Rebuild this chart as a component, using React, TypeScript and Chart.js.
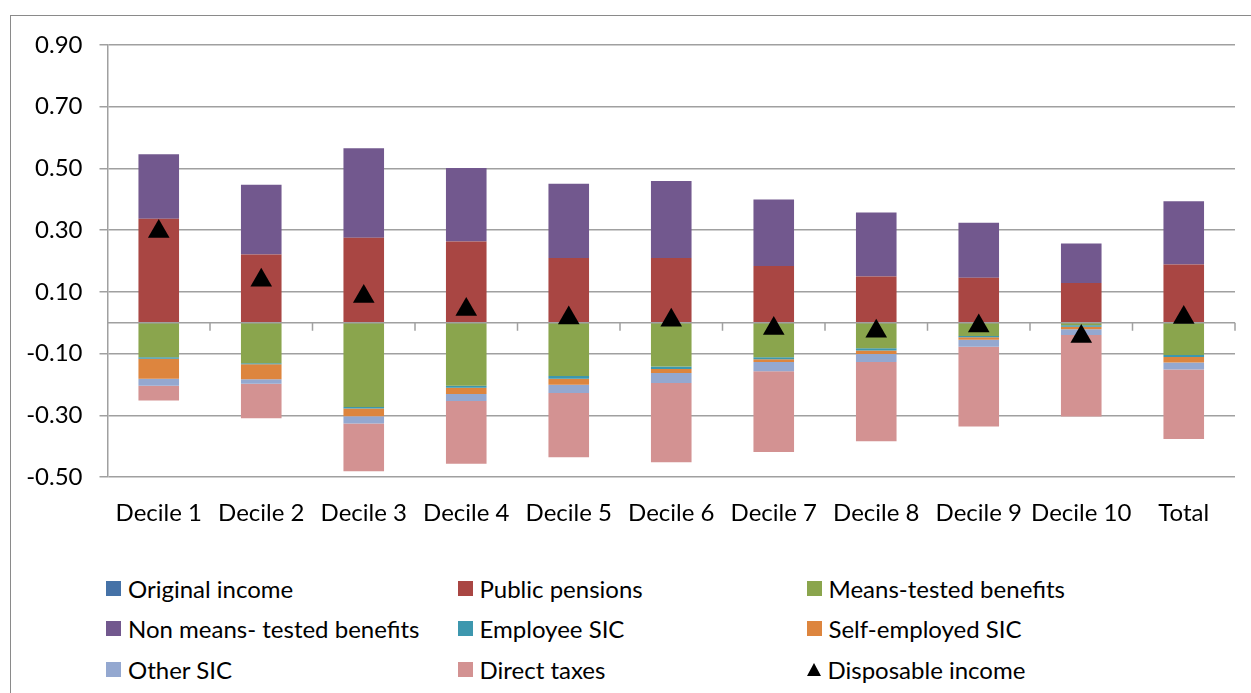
import React, { useEffect, useRef } from "react";
import { Chart, registerables } from "chart.js";

Chart.register(...registerables);

const categories = ["Decile 1", "Decile 2", "Decile 3", "Decile 4", "Decile 5", "Decile 6", "Decile 7", "Decile 8", "Decile 9", "Decile 10", "Total"];

const originalIncome = [0, 0, 0, 0, 0, 0, 0, 0, 0, 0, 0];
const publicPensions = [0.337, 0.221, 0.275, 0.263, 0.21, 0.21, 0.184, 0.15, 0.146, 0.129, 0.189];
const meansTested = [-0.112, -0.131, -0.273, -0.204, -0.173, -0.142, -0.112, -0.083, -0.043, -0.008, -0.105];
const nonMeansTested = [0.209, 0.226, 0.29, 0.238, 0.24, 0.249, 0.215, 0.207, 0.178, 0.128, 0.205];
const employeeSIC = [-0.005, -0.004, -0.005, -0.007, -0.009, -0.008, -0.006, -0.007, -0.004, -0.005, -0.006];
const selfEmployedSIC = [-0.065, -0.048, -0.025, -0.02, -0.019, -0.013, -0.009, -0.011, -0.008, -0.008, -0.018];
const otherSIC = [-0.022, -0.015, -0.024, -0.023, -0.027, -0.032, -0.03, -0.026, -0.023, -0.019, -0.023];
const directTaxes = [-0.048, -0.112, -0.154, -0.203, -0.208, -0.257, -0.262, -0.257, -0.258, -0.264, -0.225];
const disposableIncome = [0.296, 0.138, 0.085, 0.043, 0.015, 0.008, -0.019, -0.028, -0.011, -0.045, 0.017];

const yMin = -0.5;
const yMax = 0.9;
const yStep = 0.2;

const barSeries = [
  { label: "Original income", data: originalIncome, color: "#4572A7" },
  { label: "Public pensions", data: publicPensions, color: "#A94643" },
  { label: "Means-tested benefits", data: meansTested, color: "#8AA54D" },
  { label: "Non means- tested benefits", data: nonMeansTested, color: "#72588E" },
  { label: "Employee SIC", data: employeeSIC, color: "#3D97AE" },
  { label: "Self-employed SIC", data: selfEmployedSIC, color: "#DD853E" },
  { label: "Other SIC", data: otherSIC, color: "#94A8D0" },
  { label: "Direct taxes", data: directTaxes, color: "#D39292" },
];
const lineLabel = "Disposable income";

const FONT = "Lato, 'Open Sans', sans-serif";
const FONT_SIZE = 24;
const GRID = "#a0a0a0";

const zeroLinePlugin = {
  id: "zeroLine",
  beforeDatasetDraw(chart: any, args: any) {
    if (args.meta.type !== "line") return;
    const { ctx, chartArea, scales } = chart;
    const y0 = scales.y.getPixelForValue(0);
    const n = categories.length;
    const w = (chartArea.right - chartArea.left) / n;
    ctx.save();
    ctx.strokeStyle = GRID;
    ctx.lineWidth = 1.5;
    ctx.beginPath();
    ctx.moveTo(chartArea.left, y0);
    ctx.lineTo(chartArea.right, y0);
    for (let i = 1; i <= n; i++) {
      const x = chartArea.left + i * w;
      ctx.moveTo(x, y0);
      ctx.lineTo(x, y0 + 8);
    }
    ctx.stroke();
    ctx.restore();
  },
};

function LegendMarker({ color, triangle }: { color: string; triangle?: boolean }) {
  if (triangle) {
    return (
      <span
        style={{
          display: "inline-block",
          width: 0,
          height: 0,
          borderLeft: "7.5px solid transparent",
          borderRight: "7.5px solid transparent",
          borderBottom: "13px solid #000",
        }}
      />
    );
  }
  return <span style={{ display: "inline-block", width: 15, height: 15, background: color }} />;
}

export default function App() {
  const ref = useRef<HTMLCanvasElement | null>(null);

  useEffect(() => {
    if (!ref.current) return;
    const datasets: any[] = barSeries.map((s) => ({
      type: "bar",
      label: s.label,
      data: s.data,
      backgroundColor: s.color,
      borderWidth: 0,
      categoryPercentage: 1,
      barPercentage: 0.396,
      order: 0,
    }));
    datasets.push({
      type: "line",
      label: lineLabel,
      data: disposableIncome,
      showLine: false,
      pointStyle: "triangle",
      pointRadius: 12.5,
      pointBackgroundColor: "#000",
      pointBorderColor: "#000",
      pointBorderWidth: 0,
      order: -1,
    });
    const chart = new Chart(ref.current, {
      type: "bar",
      data: { labels: categories, datasets },
      options: {
        animation: false,
        responsive: false,
        layout: { padding: { top: 45, right: 16, left: 0, bottom: 0 } },
        plugins: { legend: { display: false }, tooltip: { enabled: false } },
        scales: {
          x: {
            stacked: true,
            grid: { display: false },
            border: { display: false },
            ticks: { color: "#000", font: { family: FONT, size: FONT_SIZE }, padding: 14, maxRotation: 0, autoSkip: false },
            afterFit: (s: any) => {
              s.height = 68;
            },
          },
          y: {
            stacked: true,
            min: yMin,
            max: yMax,
            grid: { color: GRID, lineWidth: 1.5, tickLength: 8, drawTicks: true },
            border: { display: true, color: GRID, width: 1.5 },
            ticks: {
              stepSize: yStep,
              color: "#000",
              font: { family: FONT, size: FONT_SIZE },
              padding: 17,
              callback: (v: any) => Number(v).toFixed(2),
            },
            afterFit: (s: any) => {
              s.width = 107.5;
            },
          },
        },
      } as any,
      plugins: [zeroLinePlugin],
    });
    return () => chart.destroy();
  }, []);

  const legendItems = [
    ...barSeries.map((s) => ({ label: s.label, color: s.color, triangle: false })),
    { label: lineLabel, color: "#000", triangle: true },
  ];
  const colX = [106, 457.5, 806.5];
  const rowY = [588.5, 628.5, 669];

  return (
    <div style={{ position: "absolute", left: 0, top: 0, width: 1251, height: 693, overflow: "hidden", background: "#fff", fontFamily: FONT }}>
      <div
        style={{
          position: "absolute",
          left: 10,
          top: 15,
          width: 1260,
          height: 700,
          borderTop: "1.5px solid #8a8a8a",
          borderLeft: "1.5px solid #8a8a8a",
          boxSizing: "border-box",
        }}
      />
      <canvas ref={ref} width={1251} height={545} style={{ position: "absolute", left: 0, top: 0, width: 1251, height: 545 }} />
      {legendItems.map((it, i) => {
        const c = i % 3;
        const r = Math.floor(i / 3);
        return (
          <div
            key={it.label}
            style={{
              position: "absolute",
              left: colX[c],
              top: rowY[r] - 15,
              height: 30,
              display: "flex",
              alignItems: "center",
              gap: 7,
              fontSize: FONT_SIZE,
              color: "#000",
              whiteSpace: "nowrap",
            }}
          >
            <LegendMarker color={it.color} triangle={it.triangle} />
            <span>{it.label}</span>
          </div>
        );
      })}
    </div>
  );
}
